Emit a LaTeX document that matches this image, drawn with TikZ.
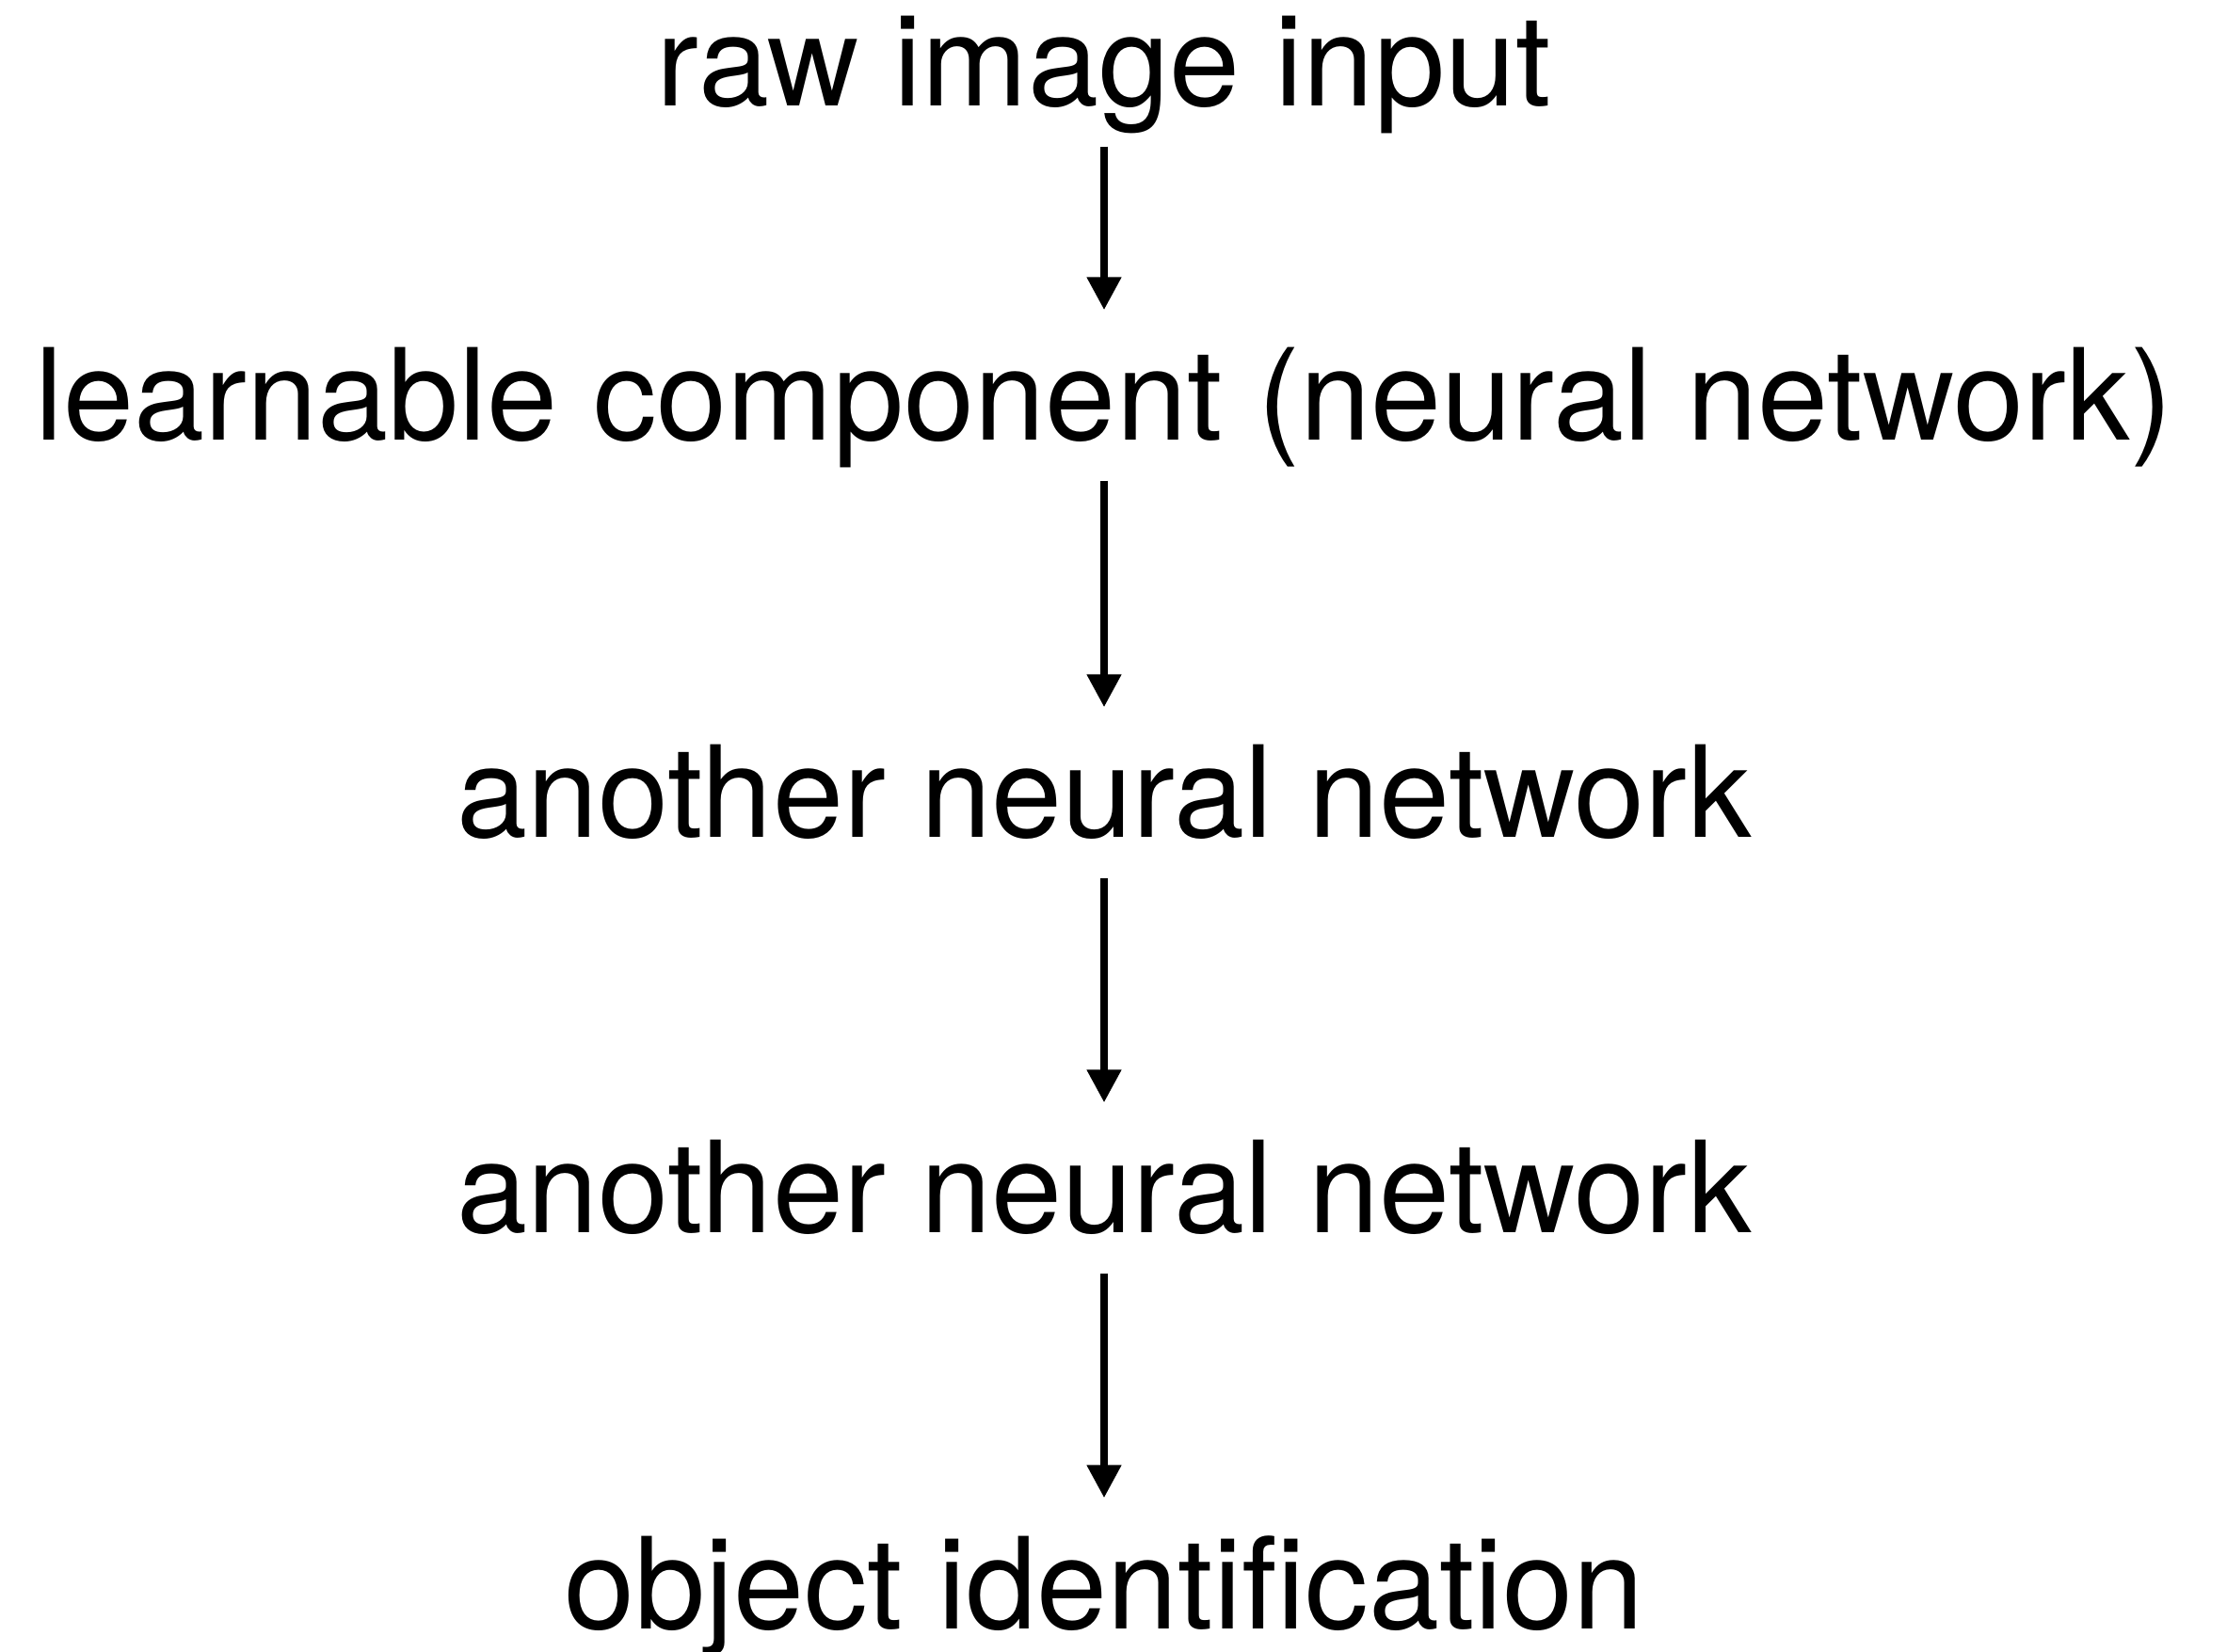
\documentclass[tikz,border=0pt]{standalone}
\usepackage{fontspec}
\setmainfont{TeX Gyre Heros}
\usetikzlibrary{arrows.meta}

\begin{document}
\begin{tikzpicture}[
	stage/.style={anchor=base, inner xsep=0, inner ysep=0.42cm, text height=0.96cm, text depth=0cm, font=\fontsize{38.4}{46}\selectfont},
	flow/.style={line width=0.08cm, -{Triangle[length=0.35cm, width=0.35cm]}}]
	\def \cx{ 11.73 };
	\useasboundingbox (0,0) rectangle (23.66,17.54);
	\node[stage] (raw) at (\cx,16.41) {raw image input};
	\node[stage] (learn) at (\cx,12.86) {learnable component (neural network)};
	\node[stage] (nn1) at (\cx,8.64) {another neural network};
	\node[stage] (nn2) at (\cx,4.44) {another neural network};
	\node[stage] (obj) at (\cx,0.24) {object identification};
	\draw[flow] (raw) -- (learn);
	\draw[flow] (learn) -- (nn1);
	\draw[flow] (nn1) -- (nn2);
	\draw[flow] (nn2) -- (obj);
\end{tikzpicture}
\end{document}
